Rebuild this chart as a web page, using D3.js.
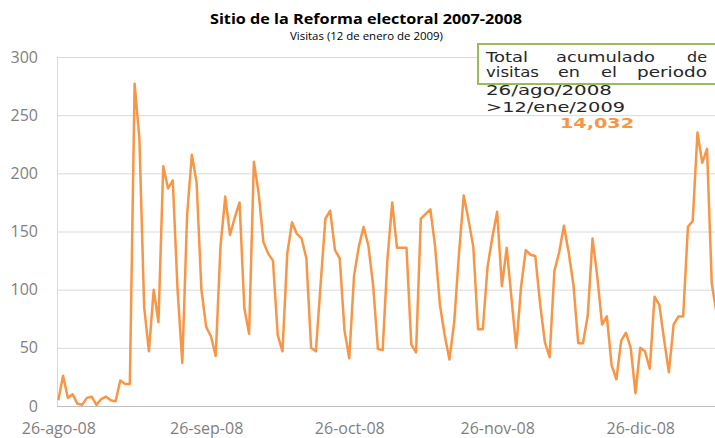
<!DOCTYPE html>
<html>
<head>
<meta charset="utf-8">
<script src="https://cdn.jsdelivr.net/npm/d3@7"></script>
<style>
  html, body { margin: 0; padding: 0; background: #fff; overflow: hidden; }
  svg { display: block; }
</style>
</head>
<body>
<svg id="chart" width="715" height="438"></svg>
<script>
// ---- data ----
const startDate = Date.UTC(2008, 7, 26);           // 26-ago-2008
const visits = [
  5, 26, 7, 10, 2, 1, 7, 8, 1, 6, 8, 5, 4, 22, 19, 19, 277, 230, 85, 47,
  100, 72, 206, 187, 194, 100, 37, 164, 216, 192, 100, 68, 60, 43, 137, 180, 147, 162, 175, 84,
  62, 210, 183, 141, 131, 125, 61, 47, 131, 158, 148, 144, 127, 50, 47, 105, 161, 168, 134, 127,
  65, 41, 112, 137, 154, 138, 104, 49, 48, 126, 175, 136, 136, 136, 53, 46, 161, 165, 169, 137,
  87, 61, 40, 72, 131, 181, 160, 137, 66, 66, 120, 145, 167, 103, 136, 93, 50, 102, 134, 130,
  129, 88, 55, 42, 116, 132, 155, 132, 104, 54, 54, 78, 144, 111, 70, 77, 35, 23, 56, 63,
  50, 11, 50, 47, 32, 94, 87, 57, 29, 70, 77, 77, 154, 159, 235, 209, 221, 105, 80
];
const dates = visits.map((v, i) => d3.utcDay.offset(new Date(startDate), i));
const xTickDates = [
  new Date(Date.UTC(2008, 7, 26)), new Date(Date.UTC(2008, 8, 26)),
  new Date(Date.UTC(2008, 9, 26)), new Date(Date.UTC(2008, 10, 26)),
  new Date(Date.UTC(2008, 11, 26))
];
const monthNames = ["ene","feb","mar","abr","may","jun","jul","ago","sep","oct","nov","dic"];
const yTicks = [0, 50, 100, 150, 200, 250, 300];
const titleText = "Sitio de la Reforma electoral 2007-2008";
const subtitleText = "Visitas (12 de enero de 2009)";
const boxLine1 = ["Total", "acumulado", "de"];
const boxLine2 = ["visitas", "en", "el", "periodo"];
const boxLine3 = "26/ago/2008";
const boxLine4 = ">12/ene/2009";
const totalText = "14,032";

// ---- layout ----
const svg = d3.select("#chart");
const plotLeft = 57, plotTop = 57, plotBottom = 406;
const dayPx = 4.77;
const x = d3.scaleUtc()
  .domain([new Date(startDate), new Date(Date.UTC(2009, 0, 12))])
  .range([58.3, 58.3 + 139 * dayPx]);
const y = d3.scaleLinear().domain([0, 300]).range([plotBottom, plotTop]);
const plotRight = 730;

const labelFont = "'Open Sans', 'Liberation Sans', sans-serif";

// gridlines
const grid = svg.append("g")
  .attr("transform", `translate(${plotLeft},0)`)
  .call(d3.axisLeft(y).tickValues(yTicks.filter(t => t > 0)).tickSize(-(plotRight - plotLeft)).tickFormat(""));
grid.select(".domain").remove();
grid.selectAll(".tick line").attr("stroke", "#d9d9d9").attr("stroke-width", 1);

// y axis line (vertical)
svg.append("line").attr("x1", plotLeft + 0.5).attr("x2", plotLeft + 0.5)
  .attr("y1", plotTop).attr("y2", plotBottom).attr("stroke", "#d9d9d9");

// y axis labels
const yAxis = svg.append("g")
  .attr("transform", `translate(${plotLeft},0)`)
  .call(d3.axisLeft(y).tickValues(yTicks).tickSize(0).tickPadding(19));
yAxis.select(".domain").remove();
yAxis.selectAll("text").attr("font-family", labelFont).attr("font-size", 16)
  .attr("fill", "#7f7f7f");

// x axis
const xAxis = svg.append("g")
  .attr("transform", `translate(0,${plotBottom})`)
  .call(d3.axisBottom(x).tickValues(xTickDates).tickSize(0).tickPadding(17)
    .tickFormat(d => d3.utcFormat("%d")(d) + "-" + monthNames[d.getUTCMonth()] + "-" + d3.utcFormat("%y")(d)));
xAxis.select(".domain").attr("stroke", "#bfbfbf").attr("d", `M${plotLeft},0.5H${plotRight}`);
xAxis.selectAll("text").attr("font-family", labelFont).attr("font-size", 16)
  .attr("fill", "#7f7f7f");

// line
const line = d3.line().x((d, i) => x(dates[i])).y(d => y(d));
svg.append("path").datum(visits)
  .attr("d", line)
  .attr("fill", "none")
  .attr("stroke", "#f79646")
  .attr("stroke-width", 2.5)
  .attr("stroke-linejoin", "round");

// title
svg.append("text").attr("x", 210).attr("y", 24)
  .attr("font-family", labelFont).attr("font-weight", "bold").attr("font-size", 15)
  .attr("fill", "#000").attr("textLength", 312).attr("lengthAdjust", "spacingAndGlyphs")
  .text(titleText);
svg.append("text").attr("x", 290).attr("y", 40)
  .attr("font-family", labelFont).attr("font-size", 10)
  .attr("fill", "#000").attr("textLength", 153).attr("lengthAdjust", "spacingAndGlyphs")
  .text(subtitleText);

// annotation box
svg.append("rect").attr("x", 478).attr("y", 44).attr("width", 260).attr("height", 40)
  .attr("fill", "#fff").attr("stroke", "#9bbb59").attr("stroke-width", 2);

const boxFont = "'DejaVu Sans', Verdana, sans-serif";
function word(txt, x0, x1, yb, opts = {}) {
  svg.append("text").attr("x", x0).attr("y", yb)
    .attr("font-family", boxFont).attr("font-size", opts.size || 14)
    .attr("font-weight", opts.weight || "normal")
    .attr("fill", opts.fill || "#262626")
    .attr("textLength", x1 - x0).attr("lengthAdjust", "spacingAndGlyphs")
    .text(txt);
}
const l1x = [[486, 528], [556, 655], [687, 707]];
boxLine1.forEach((w, i) => word(w, l1x[i][0], l1x[i][1], 62));
const l2x = [[486, 539], [558, 580], [601, 617], [637, 707]];
boxLine2.forEach((w, i) => word(w, l2x[i][0], l2x[i][1], 77));
word(boxLine3, 486, 612, 95);
word(boxLine4, 486, 625, 112);
word(totalText, 560, 634, 128, { fill: "#f79646", weight: "bold" });
</script>
</body>
</html>
